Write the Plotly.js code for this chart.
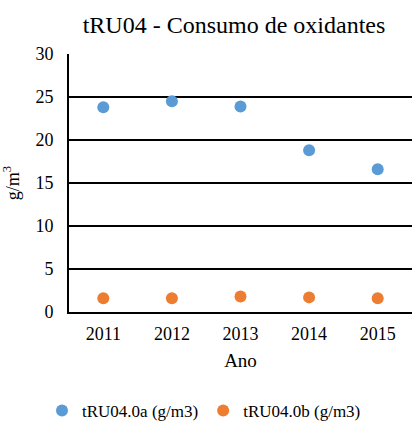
<!DOCTYPE html>
<html>
<head>
<meta charset="utf-8">
<script src="https://cdn.plot.ly/plotly-3.0.1.min.js"></script>
<style>html,body{margin:0;padding:0;background:#fff;}#chart{width:412px;height:421px;}</style>
</head>
<body>
<div id="chart"></div>
<script>
var years = ['2011', '2012', '2013', '2014', '2015'];
var seriesA = [23.8, 24.5, 23.9, 18.8, 16.6];
var seriesB = [1.6, 1.6, 1.8, 1.7, 1.6];
var nameA = 'tRU04.0a (g/m3)';
var nameB = 'tRU04.0b (g/m3)';

var font = '"Liberation Serif", "Times New Roman", serif';
var data = [
  {x: years, y: seriesA, name: nameA, type: 'scatter', mode: 'markers',
   marker: {color: '#5B9BD5', size: 12}},
  {x: years, y: seriesB, name: nameB, type: 'scatter', mode: 'markers',
   marker: {color: '#ED7D31', size: 12}}
];
var layout = {
  width: 412, height: 421,
  margin: {l: 69, r: 0, t: 54, b: 109},
  paper_bgcolor: '#fff', plot_bgcolor: '#fff',
  font: {family: font, size: 17, color: '#000'},
  title: {text: 'tRU04 - Consumo de oxidantes', font: {family: font, size: 24, color: '#000'},
          x: 234 / 412, xref: 'container', xanchor: 'center', y: 1 - 25 / 421, yref: 'container', yanchor: 'middle'},
  xaxis: {type: 'category', range: [-0.5, years.length - 0.5], showgrid: false, showline: true, linecolor: '#000', linewidth: 2,
          ticks: '', tickfont: {family: font, size: 18, color: '#000'}, zeroline: false, ticklabelstandoff: 4,
          title: {text: 'Ano', font: {family: font, size: 19, color: '#000'}, standoff: 11}},
  yaxis: {range: [0, 30], dtick: 5, showgrid: true, gridcolor: '#000', gridwidth: 2,
          showline: true, linecolor: '#000', linewidth: 2, zeroline: false, ticks: '',
          tickfont: {family: font, size: 18, color: '#000'}, fixedrange: true, ticklabelstandoff: 10,
          title: {text: 'g/m<sup>3</sup>', font: {family: font, size: 18, color: '#000'}, standoff: 14}},
  legend: {orientation: 'h', xref: 'container', x: 204 / 412, xanchor: 'center',
           yref: 'container', y: 1 - 411 / 421, yanchor: 'middle',
           font: {family: font, size: 17, color: '#000'}, itemwidth: 30, tracegroupgap: 0},
  showlegend: true
};
Plotly.newPlot('chart', data, layout, {displayModeBar: false, staticPlot: true});
</script>
</body>
</html>
